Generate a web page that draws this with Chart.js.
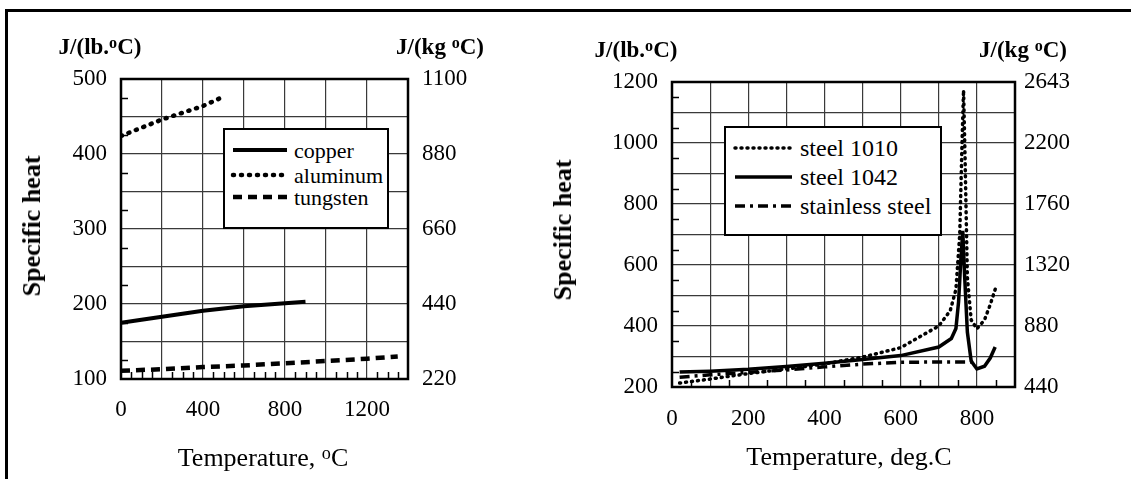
<!DOCTYPE html>
<html>
<head>
<meta charset="utf-8">
<script src="https://cdn.jsdelivr.net/npm/chart.js@4.4.0/dist/chart.umd.min.js"></script>
<style>
  body { margin: 0; background: #fff; font-family: 'Liberation Serif', 'Times New Roman', serif; color: #000; }
  #page { position: relative; width: 1131px; height: 479px; overflow: hidden; }
  .panel { position: absolute; top: 0; height: 479px; }
  .txt { position: absolute; transform: translate(-50%, -50%); white-space: nowrap; }
  .unit { font-weight: bold; font-size: 23px; }
  .ytitle { font-weight: bold; font-size: 26px; transform: translate(-50%, -50%) rotate(-90deg); }
  .xtitle { font-size: 26px; }
  sup { font-size: 70%; vertical-align: 0.4em; line-height: 0; }
  .legend { position: absolute; border: 2.5px solid #000; background: #fff; box-sizing: border-box; font-family: 'Liberation Serif', 'Times New Roman', serif; }
  .legend .row { position: absolute; left: 0; height: 0; }
  .legend svg { position: absolute; overflow: visible; }
  .legend span { position: absolute; transform: translateY(-50%); white-space: nowrap; }
  .edge-top { position: absolute; left: 5px; top: 9px; width: 1126px; height: 2.5px; background: #000; }
  .edge-left { position: absolute; left: 5px; top: 9px; width: 2.5px; height: 470px; background: #000; }
</style>
</head>
<body>
<div id="page">
  <div class="edge-top"></div>
  <div class="edge-left"></div>

  <div class="panel" style="left:0;width:565px"><canvas id="leftChart"></canvas></div>
  <div class="panel" style="left:565px;width:566px"><canvas id="rightChart"></canvas></div>

  <div class="txt unit" style="left:100px;top:47px">J/(lb.<sup>o</sup>C)</div>
  <div class="txt unit" style="left:440px;top:47px">J/(kg <sup>o</sup>C)</div>
  <div class="txt ytitle" style="left:32px;top:226px">Specific heat</div>
  <div class="txt xtitle" style="left:263px;top:458px">Temperature, <sup>o</sup>C</div>

  <div class="txt unit" style="left:636px;top:50px">J/(lb.<sup>o</sup>C)</div>
  <div class="txt unit" style="left:1023px;top:50px">J/(kg <sup>o</sup>C)</div>
  <div class="txt ytitle" style="left:563px;top:230px">Specific heat</div>
  <div class="txt xtitle" style="left:849px;top:457px">Temperature, deg.C</div>

  <div id="leftLegend" class="legend" style="left:223px;top:128px;width:166px;height:101px"></div>
  <div id="rightLegend" class="legend" style="left:724px;top:126px;width:218px;height:110px"></div>
</div>

<script>
// left panel: copper, aluminum, tungsten
const cuTemp = [0, 100, 200, 300, 400, 500, 600, 700, 800, 900]
const cuHeat = [175, 179, 183, 187, 191, 194, 197, 199, 201, 203]
const alTemp = [0, 100, 200, 300, 400, 480]
const alHeat = [424, 435, 446, 455, 464, 474]
const wTemp = [0, 200, 400, 600, 800, 1000, 1200, 1350]
const wHeat = [111, 113, 116, 118, 121, 124, 127, 130]
const leftKgLabels = ['220', '440', '660', '880', '1100']

// right panel: steels
const s1010Temp = [20, 100, 200, 300, 400, 500, 600, 700, 730, 745, 755, 761, 765, 769, 775, 785, 800, 820, 835, 850]
const s1010Heat = [213, 226, 244, 259, 276, 298, 329, 400, 450, 520, 700, 1000, 1173, 950, 560, 420, 391, 420, 470, 528]
const s1042Temp = [20, 100, 200, 300, 400, 500, 600, 700, 733, 745, 752, 758, 763, 768, 775, 785, 800, 820, 835, 848]
const s1042Heat = [249, 252, 258, 267, 278, 290, 303, 331, 359, 392, 480, 620, 712, 560, 380, 285, 259, 268, 295, 331]
const ssTemp = [20, 100, 200, 300, 400, 500, 600, 700, 800]
const ssHeat = [232, 240, 248, 256, 266, 275, 281, 282, 282]
const rightKgLabels = ['440', '880', '1320', '1760', '2200', '2643']

Chart.defaults.font.family = "'Liberation Serif', 'Times New Roman', serif"
Chart.defaults.color = '#000'

const pts = (xs, ys) => xs.map((x, i) => ({ x: x, y: ys[i] }))

// frame round the plot + little inner ticks between the grid lines
const frame = {
  id: 'frame',
  afterDraw(chart, args, opts) {
    const { ctx, chartArea: a, scales } = chart
    ctx.save()
    ctx.strokeStyle = '#000'
    ctx.lineWidth = 1.5
    const y = scales.y, x = scales.x
    for (let v = y.min; v <= y.max; v += opts.yMinor) {
      if (v % y.options.ticks.stepSize === 0) continue
      const py = Math.round(y.getPixelForValue(v)) + 0.5
      ctx.beginPath(); ctx.moveTo(a.left, py); ctx.lineTo(a.left + 7, py); ctx.stroke()
    }
    for (let v = x.min; v <= x.max; v += opts.xMinor) {
      if (v % x.options.ticks.stepSize === 0) continue
      const px = Math.round(x.getPixelForValue(v)) + 0.5
      ctx.beginPath(); ctx.moveTo(px, a.bottom); ctx.lineTo(px, a.bottom - 7); ctx.stroke()
    }
    ctx.lineWidth = 2.5
    ctx.strokeRect(a.left, a.top, a.right - a.left, a.bottom - a.top)
    ctx.restore()
  }
}

function makeChart(canvasId, datasets, cfg) {
  const grid = { color: '#3a3a3a', lineWidth: 1.2, drawTicks: false }
  const tickFont = { size: 23, family: "'Liberation Serif', 'Times New Roman', serif" }
  return new Chart(document.getElementById(canvasId), {
    type: 'line',
    data: { datasets: datasets },
    options: {
      responsive: true,
      maintainAspectRatio: false,
      animation: false,
      devicePixelRatio: 1,
      layout: { padding: { top: cfg.top, left: 0, right: 0, bottom: 0 } },
      elements: { point: { radius: 0 }, line: { tension: 0 } },
      plugins: {
        legend: { display: false },
        tooltip: { enabled: false },
        frame: { xMinor: cfg.xMinor, yMinor: cfg.yMinor }
      },
      scales: {
        x: {
          type: 'linear', min: cfg.xMin, max: cfg.xMax,
          border: { display: false }, grid: grid,
          ticks: {
            stepSize: cfg.xStep, autoSkip: false, maxRotation: 0, padding: cfg.xPad,
            font: tickFont,
            callback: v => v % cfg.xLabelStep === 0 ? String(v) : ''
          },
          afterFit: s => { s.height = cfg.xHeight }
        },
        y: {
          min: cfg.yMin, max: cfg.yMax,
          border: { display: false }, grid: grid,
          ticks: {
            stepSize: cfg.yStep, autoSkip: false, padding: cfg.yPad,
            font: tickFont,
            callback: v => v % cfg.yLabelStep === 0 ? String(v) : ''
          },
          afterFit: s => { s.width = cfg.yWidth }
        },
        y2: {
          position: 'right', min: cfg.yMin, max: cfg.yMax,
          border: { display: false }, grid: { display: false, drawTicks: false },
          ticks: {
            stepSize: cfg.yStep, autoSkip: false, padding: cfg.y2Pad,
            font: tickFont,
            callback: v => (v - cfg.yMin) % cfg.yLabelStep === 0 ? cfg.kgLabels[(v - cfg.yMin) / cfg.yLabelStep] : ''
          },
          afterFit: s => { s.width = cfg.y2Width }
        }
      }
    },
    plugins: [frame]
  })
}

function buildLegend(boxId, datasets, rows) {
  const box = document.getElementById(boxId)
  datasets.forEach((d, i) => {
    const r = rows[i]
    const row = document.createElement('div')
    row.className = 'row'
    row.style.top = r.y + 'px'
    const dash = (d.borderDash || []).join(' ')
    row.innerHTML =
      `<svg width="${r.x1 - r.x0}" height="2" style="left:${r.x0}px;top:-1px">` +
      `<line x1="0" y1="1" x2="${r.x1 - r.x0}" y2="1" stroke="#000" stroke-width="${d.borderWidth}" ` +
      `stroke-dasharray="${dash}" stroke-linecap="${d.borderCapStyle || 'butt'}"/></svg>` +
      `<span style="left:${r.tx}px;top:${r.ty}px;font-size:${r.size}px">${d.label}</span>`
    box.appendChild(row)
  })
}

const leftSets = [
  { label: 'copper', data: pts(cuTemp, cuHeat), borderColor: '#000', borderWidth: 4, yAxisID: 'y' },
  { label: 'aluminum', data: pts(alTemp, alHeat), borderColor: '#000', borderWidth: 4.5, borderDash: [1, 7], borderCapStyle: 'round', yAxisID: 'y' },
  { label: 'tungsten', data: pts(wTemp, wHeat), borderColor: '#000', borderWidth: 4.5, borderDash: [9, 6], yAxisID: 'y' }
]

const rightSets = [
  { label: 'steel 1010', data: pts(s1010Temp, s1010Heat), borderColor: '#000', borderWidth: 3.5, borderDash: [1, 5], borderCapStyle: 'round', yAxisID: 'y' },
  { label: 'steel 1042', data: pts(s1042Temp, s1042Heat), borderColor: '#000', borderWidth: 3.5, yAxisID: 'y' },
  { label: 'stainless steel', data: pts(ssTemp, ssHeat), borderColor: '#000', borderWidth: 3.5, borderDash: [10, 5, 3, 5], yAxisID: 'y' }
]

makeChart('leftChart', leftSets, {
  top: 79, xHeight: 100, yWidth: 121, y2Width: 157,
  xMin: 0, xMax: 1400, xStep: 200, xLabelStep: 400, xMinor: 50, xPad: 17,
  yMin: 100, yMax: 500, yStep: 50, yLabelStep: 100, yMinor: 25, yPad: 14, y2Pad: 14,
  kgLabels: leftKgLabels
})

makeChart('rightChart', rightSets, {
  top: 82, xHeight: 92, yWidth: 107, y2Width: 116,
  xMin: 0, xMax: 900, xStep: 100, xLabelStep: 200, xMinor: 50, xPad: 18,
  yMin: 200, yMax: 1200, yStep: 100, yLabelStep: 200, yMinor: 50, yPad: 14, y2Pad: 9,
  kgLabels: rightKgLabels
})

buildLegend('leftLegend', leftSets, [
  { y: 20, x0: 8, x1: 62, tx: 69, ty: 1, size: 22 },
  { y: 45, x0: 8, x1: 62, tx: 69, ty: 1, size: 22 },
  { y: 67, x0: 8, x1: 62, tx: 69, ty: 1, size: 22 }
])
buildLegend('rightLegend', rightSets, [
  { y: 20, x0: 9, x1: 66, tx: 74, ty: 0, size: 24 },
  { y: 49, x0: 9, x1: 66, tx: 74, ty: 0, size: 24 },
  { y: 78, x0: 9, x1: 66, tx: 74, ty: 0, size: 24 }
])
</script>
</body>
</html>
